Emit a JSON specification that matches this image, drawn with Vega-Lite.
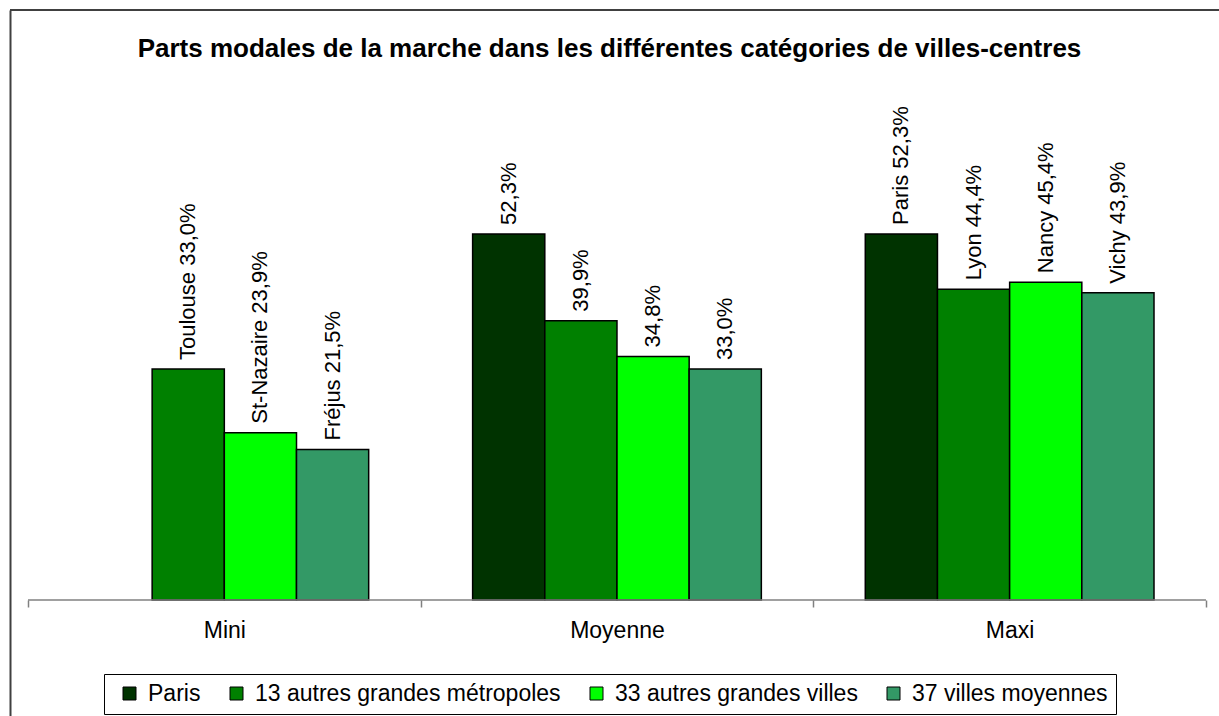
{
  "$schema": "https://vega.github.io/schema/vega-lite/v6.json",
  "width": 1209,
  "height": 706,
  "autosize": {"type": "none"},
  "padding": {"left": 10, "top": 10, "right": 0, "bottom": 0},
  "background": "white",
  "title": {
    "text": "Parts modales de la marche dans les différentes catégories de villes-centres",
    "font": "Liberation Sans",
    "fontSize": 26,
    "fontWeight": "bold",
    "color": "black",
    "anchor": "middle",
    "baseline": "alphabetic",
    "offset": -74,
    "dx": -5
  },
  "config": {"view": {"stroke": null}, "font": "Liberation Sans"},
  "data": {
    "values": [
      {"categorie": "Mini", "serie": "13 autres grandes métropoles", "valeur": 33.0, "etiquette": "Toulouse 33,0%"},
      {"categorie": "Mini", "serie": "33 autres grandes villes", "valeur": 23.9, "etiquette": "St-Nazaire 23,9%"},
      {"categorie": "Mini", "serie": "37 villes moyennes", "valeur": 21.5, "etiquette": "Fréjus 21,5%"},
      {"categorie": "Moyenne", "serie": "Paris", "valeur": 52.3, "etiquette": "52,3%"},
      {"categorie": "Moyenne", "serie": "13 autres grandes métropoles", "valeur": 39.9, "etiquette": "39,9%"},
      {"categorie": "Moyenne", "serie": "33 autres grandes villes", "valeur": 34.8, "etiquette": "34,8%"},
      {"categorie": "Moyenne", "serie": "37 villes moyennes", "valeur": 33.0, "etiquette": "33,0%"},
      {"categorie": "Maxi", "serie": "Paris", "valeur": 52.3, "etiquette": "Paris 52,3%"},
      {"categorie": "Maxi", "serie": "13 autres grandes métropoles", "valeur": 44.4, "etiquette": "Lyon 44,4%"},
      {"categorie": "Maxi", "serie": "33 autres grandes villes", "valeur": 45.4, "etiquette": "Nancy 45,4%"},
      {"categorie": "Maxi", "serie": "37 villes moyennes", "valeur": 43.9, "etiquette": "Vichy 43,9%"}
    ]
  },
  "layer": [
    {
      "mark": {"type": "bar", "stroke": "black", "strokeWidth": 1.5},
      "encoding": {
        "x": {
          "field": "categorie",
          "type": "nominal",
          "scale": {"domain": ["Mini", "Moyenne", "Maxi"], "paddingInner": 0, "paddingOuter": 0.0395, "align": 0.58},
          "axis": {
            "title": null,
            "labelAngle": 0,
            "domain": false,
            "grid": false,
            "ticks": true,
            "tickBand": "extent",
            "tickSize": 7,
            "tickColor": "#808080",
            "tickWidth": 1.5,
            "labelFont": "Liberation Sans",
            "labelFontSize": 23,
            "labelColor": "black",
            "labelPadding": 12,
            "offset": -116
          }
        },
        "xOffset": {
          "field": "serie",
          "type": "nominal",
          "scale": {
            "domain": ["Paris", "13 autres grandes métropoles", "33 autres grandes villes", "37 villes moyennes"],
            "paddingInner": 0,
            "paddingOuter": 0.72
          }
        },
        "y": {
          "field": "valeur",
          "type": "quantitative",
          "scale": {"domain": [-16.571, 84.2857], "nice": false, "zero": false},
          "axis": {
            "title": null,
            "labels": false,
            "ticks": false,
            "grid": false,
            "domain": true,
            "domainColor": "#404040",
            "domainWidth": 2
          }
        },
        "color": {
          "field": "serie",
          "type": "nominal",
          "scale": {
            "domain": ["Paris", "13 autres grandes métropoles", "33 autres grandes villes", "37 villes moyennes"],
            "range": ["#003300", "#008000", "#00FF00", "#339966"]
          },
          "legend": {
            "orient": "none",
            "legendX": 94,
            "legendY": 664,
            "direction": "horizontal",
            "title": null,
            "strokeColor": "black",
            "fillColor": "white",
            "padding": 8,
            "symbolType": "square",
            "symbolSize": 169,
            "symbolStrokeColor": "black",
            "symbolStrokeWidth": 1,
            "symbolOffset": 6,
            "labelFont": "Liberation Sans",
            "labelFontSize": 23,
            "labelColor": "black",
            "labelOffset": 7,
            "labelLimit": 0,
            "columnPadding": 18,
            "gridAlign": "none"
          }
        }
      }
    },
    {
      "mark": {"type": "text", "angle": 270, "align": "left", "baseline": "middle", "dx": 9, "fontSize": 22, "font": "Liberation Sans", "color": "black"},
      "encoding": {
        "x": {"field": "categorie", "type": "nominal"},
        "xOffset": {"field": "serie", "type": "nominal"},
        "y": {"field": "valeur", "type": "quantitative"},
        "text": {"field": "etiquette"}
      }
    },
    {
      "data": {"values": [{}]},
      "mark": {"type": "rule", "color": "#404040", "strokeWidth": 2},
      "encoding": {"y": {"datum": 84.2857}}
    },
    {
      "data": {"values": [{}]},
      "mark": {"type": "rule", "color": "#808080", "strokeWidth": 1.5},
      "encoding": {
        "x": {"datum": "Mini", "bandPosition": 0},
        "x2": {"datum": "Maxi", "bandPosition": 1},
        "y": {"datum": 0}
      }
    }
  ]
}
